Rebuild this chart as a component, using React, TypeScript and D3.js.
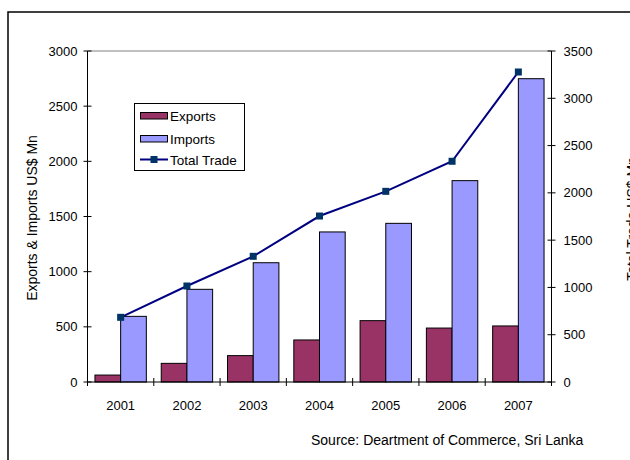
import React from "react";
import * as d3 from "d3";

const years = ["2001", "2002", "2003", "2004", "2005", "2006", "2007"];
const exportsVals = [63, 169, 239, 381, 556, 489, 508];
const importsVals = [595, 840, 1081, 1360, 1438, 1825, 2749];
const totalTrade = [684, 1015, 1329, 1755, 2016, 2334, 3278];
const leftTicks = [0, 500, 1000, 1500, 2000, 2500, 3000];
const rightTicks = [0, 500, 1000, 1500, 2000, 2500, 3000, 3500];
const seriesNames = ["Exports", "Imports"];

const W = 630, H = 460;
const L = 87.5, R = 551.5, T = 51, B = 382;
const FONT = "'Liberation Sans', Arial, sans-serif";

export default function App() {
  const x0 = d3.scaleBand<string>().domain(years).range([L, R]).padding(0);
  const x1 = d3.scaleBand<string>().domain(seriesNames).range([0, x0.bandwidth()]).paddingInner(0).paddingOuter(0.29);
  const yL = d3.scaleLinear().domain([0, 3000]).range([B, T]);
  const yR = d3.scaleLinear().domain([0, 3500]).range([B, T]);
  const cx = (y: string) => (x0(y) as number) + x0.bandwidth() / 2;
  const line = d3.line<number>().x((_, i) => cx(years[i])).y((d) => yR(d));
  const colors: Record<string, string> = { Exports: "#993366", Imports: "#9999FF" };
  const vals: Record<string, number[]> = { Exports: exportsVals, Imports: importsVals };
  const boundaries = years.map((y) => x0(y) as number).concat([R]);

  return (
    <svg width={W} height={H} style={{ position: "absolute", left: 0, top: 0, fontFamily: FONT }}>
      <rect x={0} y={0} width={W} height={H} fill="#fff" />
      <rect x={8} y={12} width={700} height={600} fill="none" stroke="#000" strokeWidth={1.5} />
      {/* plot top border */}
      <line x1={L} x2={R} y1={T} y2={T} stroke="#808080" strokeWidth={1} />
      {/* bars */}
      {seriesNames.map((s) =>
        years.map((y, i) => (
          <rect
            key={s + y}
            x={(x0(y) as number) + (x1(s) as number)}
            y={yL(vals[s][i])}
            width={x1.bandwidth()}
            height={B - yL(vals[s][i])}
            fill={colors[s]}
            stroke="#000"
            strokeWidth={1}
          />
        ))
      )}
      {/* left axis */}
      <line x1={L} x2={L} y1={T} y2={B} stroke="#000" />
      {leftTicks.map((t) => (
        <g key={"l" + t}>
          <line x1={L - 4} x2={L + 4} y1={yL(t)} y2={yL(t)} stroke="#000" />
          <text x={L - 10} y={yL(t) + 4.5} textAnchor="end" fontSize={13}>{t}</text>
        </g>
      ))}
      {/* right axis */}
      <line x1={R} x2={R} y1={T} y2={B} stroke="#000" />
      {rightTicks.map((t) => (
        <g key={"r" + t}>
          <line x1={R - 4} x2={R + 4} y1={yR(t)} y2={yR(t)} stroke="#000" />
          <text x={R + 12} y={yR(t) + 4.5} textAnchor="start" fontSize={13}>{t}</text>
        </g>
      ))}
      {/* x axis */}
      <line x1={L} x2={R} y1={B} y2={B} stroke="#000" />
      {boundaries.map((b, i) => (
        <line key={"b" + i} x1={b} x2={b} y1={B - 4} y2={B + 4} stroke="#000" />
      ))}
      {years.map((y) => (
        <text key={"x" + y} x={cx(y)} y={410} textAnchor="middle" fontSize={13}>{y}</text>
      ))}
      {/* line */}
      <path d={line(totalTrade) || ""} fill="none" stroke="#000080" strokeWidth={2} />
      {totalTrade.map((v, i) => (
        <rect key={"m" + i} x={cx(years[i]) - 3.5} y={yR(v) - 3.5} width={7} height={7} fill="#003366" />
      ))}
      {/* axis titles */}
      <text transform={`translate(37,218) rotate(-90)`} textAnchor="middle" fontSize={14}>Exports &amp; Imports US$ Mn</text>
      <text transform={`translate(637,219) rotate(-90)`} textAnchor="middle" fontSize={14}>Total Trade US$ Mn</text>
      {/* legend */}
      <rect x={134.5} y={103.5} width={110} height={67} fill="#fff" stroke="#000" strokeWidth={1} />
      <rect x={140.5} y={112.5} width={27} height={6.5} fill="#993366" stroke="#000" />
      <text x={170} y={120.5} fontSize={13.5}>Exports</text>
      <rect x={140.5} y={135.5} width={27} height={6.5} fill="#9999FF" stroke="#000" />
      <text x={170} y={143.5} fontSize={13.5}>Imports</text>
      <line x1={140} x2={168} y1={159.5} y2={159.5} stroke="#000080" strokeWidth={2} />
      <rect x={150.5} y={156} width={7} height={7} fill="#003366" />
      <text x={170} y={164.5} fontSize={13.5}>Total Trade</text>
      {/* source */}
      <text x={311} y={445} fontSize={14}>Source: Deartment of Commerce, Sri Lanka</text>
    </svg>
  );
}
